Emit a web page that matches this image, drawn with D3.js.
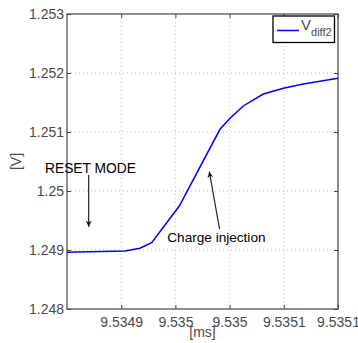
<!DOCTYPE html>
<html>
<head>
<meta charset="utf-8">
<script src="https://cdn.jsdelivr.net/npm/d3@7"></script>
<style>
  body { margin: 0; background: #fff; }
  svg { display: block; font-family: "Liberation Sans", Arial, sans-serif; }
</style>
</head>
<body>
<div id="chart"></div>
<script>
// time [ms] and Vdiff2 [V]
const timeMs = [9.53485, 9.5349035, 9.5349173, 9.5349281, 9.5349536, 9.5349911,
  9.5350004, 9.5350126, 9.5350311, 9.5350496, 9.535068, 9.5351];
const vdiff2 = [1.248961, 1.248983, 1.249029, 1.249124, 1.249746, 1.251046,
  1.251232, 1.251441, 1.251644, 1.251741, 1.251814, 1.25191];

const xTicks = [9.5349, 9.53495, 9.535, 9.53505, 9.5351];
const xTickLabels = ["9.5349", "9.535", "9.535", "9.5351", "9.5351"];
const yTicks = [1.248, 1.249, 1.25, 1.251, 1.252, 1.253];
const yTickLabels = ["1.248", "1.249", "1.25", "1.251", "1.252", "1.253"];

const width = 358, height = 343;
const margin = { top: 14, right: 20, bottom: 34, left: 67 };
const w = width - margin.left - margin.right;
const h = height - margin.top - margin.bottom;

const x = d3.scaleLinear().domain([9.53485, 9.5351]).range([0, w]);
const y = d3.scaleLinear().domain([1.248, 1.253]).range([h, 0]);

const svg = d3.select("#chart").append("svg")
  .attr("width", width).attr("height", height);

svg.append("defs").append("marker")
  .attr("id", "head")
  .attr("viewBox", "0 0 10 10")
  .attr("refX", 10).attr("refY", 5)
  .attr("markerWidth", 6).attr("markerHeight", 6)
  .attr("markerUnits", "userSpaceOnUse")
  .attr("orient", "auto")
  .append("path").attr("d", "M0,0 L10,5 L0,10 L3,5 Z").attr("fill", "#111");

const g = svg.append("g").attr("transform", `translate(${margin.left},${margin.top})`);

// grid
g.append("g").selectAll("line").data(xTicks).join("line")
  .attr("x1", d => x(d)).attr("x2", d => x(d))
  .attr("y1", 0).attr("y2", h)
  .attr("stroke", "#bbb").attr("stroke-dasharray", "1,3");
g.append("g").selectAll("line").data(yTicks.slice(1, -1)).join("line")
  .attr("x1", 0).attr("x2", w)
  .attr("y1", d => y(d)).attr("y2", d => y(d))
  .attr("stroke", "#bbb").attr("stroke-dasharray", "1,3");

// axes (inward ticks on all four sides)
const tickColor = "#444";
g.append("g").attr("transform", `translate(0,${h})`)
  .call(d3.axisBottom(x).tickValues(xTicks).tickSize(-4).tickPadding(8)
    .tickFormat((d, i) => xTickLabels[i]))
  .call(a => a.select(".domain").remove());
g.append("g")
  .call(d3.axisTop(x).tickValues(xTicks).tickSize(-4).tickFormat(""))
  .call(a => a.select(".domain").remove());
g.append("g")
  .call(d3.axisLeft(y).tickValues(yTicks).tickSize(-4).tickPadding(3)
    .tickFormat((d, i) => yTickLabels[i]))
  .call(a => a.select(".domain").remove());
g.append("g").attr("transform", `translate(${w},0)`)
  .call(d3.axisRight(y).tickValues(yTicks).tickSize(-4).tickFormat(""))
  .call(a => a.select(".domain").remove());
g.selectAll(".tick line").attr("stroke", tickColor);
g.selectAll(".tick text").attr("fill", "#4a4a4a").attr("font-size", 14)
  .attr("font-family", "Liberation Sans, Arial, sans-serif");

g.append("rect").attr("width", w).attr("height", h)
  .attr("fill", "none").attr("stroke", "#444").attr("stroke-width", 1.2);

// curve
const line = d3.line().x((d, i) => x(timeMs[i])).y(d => y(d));
g.append("path").datum(vdiff2)
  .attr("d", line).attr("fill", "none")
  .attr("stroke", "#0000ff").attr("stroke-width", 1.5);

// annotations
g.append("text").attr("x", x(9.5348297)).attr("y", y(1.2503051))
  .attr("font-size", 13.8).attr("fill", "#000").text("RESET MODE");
g.append("line")
  .attr("x1", x(9.53487)).attr("y1", y(1.2502712))
  .attr("x2", x(9.53487)).attr("y2", y(1.2493949))
  .attr("stroke", "#222").attr("stroke-width", 1.2).attr("marker-end", "url(#head)");
g.append("text").attr("x", x(9.5349425)).attr("y", y(1.2491356))
  .attr("font-size", 13.6).attr("fill", "#000").text("Charge injection");
g.append("line")
  .attr("x1", x(9.5349907)).attr("y1", y(1.2493559))
  .attr("x2", x(9.5349813)).attr("y2", y(1.2503271))
  .attr("stroke", "#222").attr("stroke-width", 1.2).attr("marker-end", "url(#head)");

// axis labels
svg.append("text")
  .attr("x", margin.left + w / 2).attr("y", 337)
  .attr("text-anchor", "middle").attr("font-size", 14).attr("fill", "#4a4a4a")
  .text("[ms]");
svg.append("text")
  .attr("transform", `translate(21,${margin.top + h / 2}) rotate(-90)`)
  .attr("text-anchor", "middle").attr("font-size", 14).attr("fill", "#4a4a4a")
  .text("[V]");

// legend
const lg = g.append("g").attr("transform", `translate(${w - 65},2)`);
lg.append("rect").attr("width", 61.5).attr("height", 26.5)
  .attr("fill", "#fff").attr("stroke", "#000").attr("stroke-width", 1.3);
lg.append("line").attr("x1", 4).attr("x2", 26).attr("y1", 14.5).attr("y2", 14.5)
  .attr("stroke", "#0000ff").attr("stroke-width", 1.5);
const lt = lg.append("text").attr("x", 28).attr("y", 14).attr("fill", "#4a4a4a")
  .attr("font-size", 15);
lt.append("tspan").text("V");
lt.append("tspan").attr("dy", 6).attr("font-size", 11).text("diff2");
</script>
</body>
</html>
